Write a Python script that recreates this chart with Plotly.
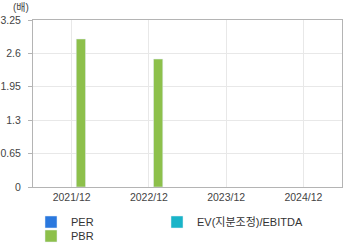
import plotly.graph_objects as go

categories = ["2021/12", "2022/12", "2023/12", "2024/12"]
per = [None, None, None, None]
ev_ebitda = [None, None, None, None]
pbr = [2.88, 2.49, None, None]
y_ticks = [0, 0.65, 1.3, 1.95, 2.6, 3.25]
y_tick_labels = ["0", "0.65", "1.3", "1.95", "2.6", "3.25"]

fig = go.Figure()
fig.add_trace(go.Bar(name="PER", x=categories, y=per, marker_color="#2a78de", legend="legend"))
fig.add_trace(go.Bar(name="EV(지분조정)/EBITDA", x=categories, y=ev_ebitda, marker_color="#19b4c8", legend="legend2"))
fig.add_trace(go.Bar(name="PBR", x=categories, y=pbr, marker_color="#8dc04b", legend="legend3"))

font_family = "Liberation Sans, Noto Sans CJK KR, sans-serif"
W, H = 360, 248
ml, mr, mt, mb = 33, 18, 20, 61
pw, ph = W - ml - mr, H - mt - mb

def px_x(x):
    return (x - ml) / pw

def px_y(y):
    return 1 - (y - mt) / ph

leg_common = dict(xanchor="left", yanchor="middle", bgcolor="rgba(0,0,0,0)",
                  font=dict(size=11, color="#333"), borderwidth=0)

fig.update_layout(
    width=W, height=H,
    margin=dict(l=ml, r=mr, t=mt, b=mb, autoexpand=False),
    paper_bgcolor="white", plot_bgcolor="white",
    barmode="group", bargap=0.64, bargroupgap=0,
    font=dict(family=font_family, size=10, color="#444"),
    showlegend=True,
    legend=dict(x=px_x(31), y=px_y(222), **leg_common),
    legend2=dict(x=px_x(157), y=px_y(222), **leg_common),
    legend3=dict(x=px_x(31), y=px_y(236), **leg_common),
    xaxis=dict(showgrid=True, gridcolor="#e8e8e8", showline=True, linecolor="#b4b4b4",
               mirror=True, ticks="", tickfont=dict(size=10.5, color="#444")),
    yaxis=dict(range=[0, 3.25], tickvals=y_ticks, ticktext=y_tick_labels,
               showgrid=True, gridcolor="#e8e8e8", showline=True, linecolor="#b4b4b4",
               mirror=True, ticks="outside", ticklen=4, tickcolor="#b4b4b4",
               ticklabelstandoff=5,
               zeroline=False, tickfont=dict(size=10.5, color="#444")),
    annotations=[dict(text="(배)", x=px_x(21), y=px_y(0), xref="paper", yref="paper",
                      xanchor="center", yanchor="top", showarrow=False,
                      font=dict(size=10, color="#444"))],
)
fig.write_html("out.html")
